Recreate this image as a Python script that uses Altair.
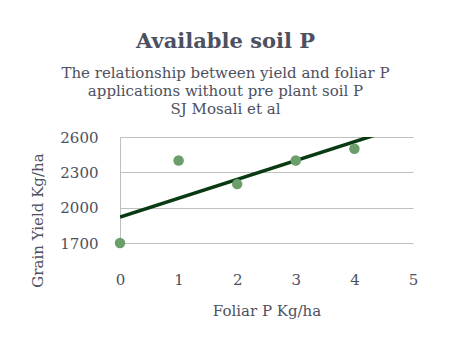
import altair as alt
import pandas as pd

foliar_p = [0, 1, 2, 3, 4]
grain_yield = [1700, 2400, 2200, 2400, 2500]
y_ticks = [1700, 2000, 2300, 2600]
x_ticks = [0, 1, 2, 3, 4, 5]

df = pd.DataFrame({"x": foliar_p, "y": grain_yield})

FONT = "DejaVu Serif"
TXT = "#4d5060"

x_scale = alt.Scale(domain=[0, 5], nice=False, zero=False)
y_scale = alt.Scale(domain=[1700, 2600], nice=False, zero=False)

x_axis = alt.Axis(values=x_ticks, format="d", title="Foliar P Kg/ha", grid=False, domain=False, ticks=False,
                  labelFlush=False, labelPadding=29, labelFontSize=15, labelColor=TXT, labelFont=FONT,
                  titleFont=FONT, titleFontSize=15, titleColor=TXT, titleFontWeight="normal",
                  titlePadding=16)
y_axis = alt.Axis(values=y_ticks, format="d", title="Grain Yield Kg/ha", grid=True, gridColor="#bfbfbf",
                  domain=True, domainColor="#bfbfbf", ticks=False, labelPadding=22, labelFlush=False,
                  labelFontSize=15, labelColor=TXT, labelFont=FONT,
                  titleFont=FONT, titleFontSize=15, titleColor=TXT, titleFontWeight="normal",
                  titlePadding=14, titleY=83)

points = alt.Chart(df).mark_circle(size=110, color="#6b9e6b", opacity=1).encode(
    x=alt.X("x:Q", scale=x_scale, axis=x_axis),
    y=alt.Y("y:Q", scale=y_scale, axis=y_axis),
)

trend = alt.Chart(df).transform_regression("x", "y", extent=[0, 5]).mark_line(
    color="#0a3a12", strokeWidth=3.5, clip=True
).encode(
    x=alt.X("x:Q", scale=x_scale, axis=x_axis),
    y=alt.Y("y:Q", scale=y_scale, axis=y_axis),
)

chart = alt.layer(trend, points).properties(
    width=293,
    height=106,
    background="white",
    padding={"left": 120, "top": 137, "right": 50, "bottom": 102},
    autosize=alt.AutoSizeParams(type="none"),
    title=alt.TitleParams(
        text="Available soil P",
        subtitle=["The relationship between yield and foliar P",
                  "applications without pre plant soil P",
                  "SJ Mosali et al"],
        font=FONT, fontSize=21, fontWeight="bold", color=TXT,
        subtitleFont=FONT, subtitleFontSize=15, subtitleColor=TXT,
        subtitleLineHeight=18, subtitlePadding=14,
        anchor="middle", dx=-41, offset=13,
    ),
).configure_view(strokeWidth=0, stroke="transparent")

chart.save("out.html", embed_options={"renderer": "svg", "actions": False})
